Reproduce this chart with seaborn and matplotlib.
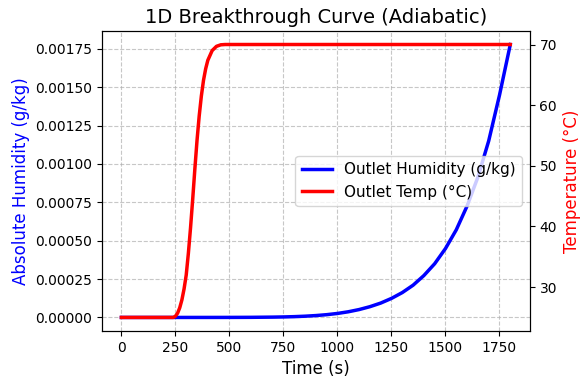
import pandas as pd
import matplotlib
matplotlib.use('Agg')
import matplotlib.pyplot as plt
import seaborn as sns

# humidity readings (g/kg) at outlet
hum_time = [0, 250, 400, 500, 600, 700, 750, 800, 850, 900, 950, 1000, 1050,
            1100, 1150, 1200, 1250, 1300, 1350, 1400, 1450, 1500, 1550, 1600,
            1650, 1700, 1750, 1800]
hum_vals = [0.0, 0.0, 0.00000006, 0.00000025, 0.00000075, 0.0000021,
            0.0000033, 0.0000052, 0.0000081, 0.0000122, 0.000018, 0.000026,
            0.0000369, 0.0000513, 0.000070, 0.0000935, 0.000124, 0.000162,
            0.000210, 0.000273, 0.000350, 0.000449, 0.000571, 0.000726,
            0.000914, 0.001150, 0.001448, 0.001778]

# outlet temperature (°C)
temp_time = [0, 200, 240, 250, 260, 270, 280, 290, 300, 310, 320, 330, 340,
             350, 360, 370, 380, 390, 400, 420, 440, 460, 480, 500, 1800]
temp_vals = [25.0, 25.0, 25.0, 25.2, 25.7, 26.6, 27.9, 29.7, 32.0, 35.6,
             39.8, 44.5, 49.5, 54.2, 58.2, 61.5, 64.1, 66.0, 67.4, 69.0,
             69.7, 69.95, 70.0, 70.0, 70.0]

df_h = pd.DataFrame({'t': hum_time, 'h': hum_vals})
df_t = pd.DataFrame({'t': temp_time, 'T': temp_vals})

fig = plt.figure(figsize=(5.86, 3.81), dpi=100)
ax1 = fig.add_axes([0.174, 0.131, 0.730, 0.788])
ax2 = ax1.twinx()

sns.lineplot(data=df_h, x='t', y='h', ax=ax1, color='blue', linewidth=2.5,
             label='Outlet Humidity (g/kg)', legend=False)
sns.lineplot(data=df_t, x='t', y='T', ax=ax2, color='red', linewidth=2.5,
             label='Outlet Temp (°C)', legend=False)

ax1.set_xlabel('Time (s)', fontsize=12)
ax1.set_ylabel('Absolute Humidity (g/kg)', color='blue', fontsize=12)
ax2.set_ylabel('Temperature (°C)', color='red', fontsize=12)
ax1.set_title('1D Breakthrough Curve (Adiabatic)', fontsize=14)
ax1.set_xticks([0, 250, 500, 750, 1000, 1250, 1500, 1750])
ax1.grid(True, linestyle='--', alpha=0.7)

lines = ax1.get_lines() + ax2.get_lines()
ax2.legend(lines, [l.get_label() for l in lines], loc='center right', fontsize=11)

fig.savefig('out.png', dpi=100)
